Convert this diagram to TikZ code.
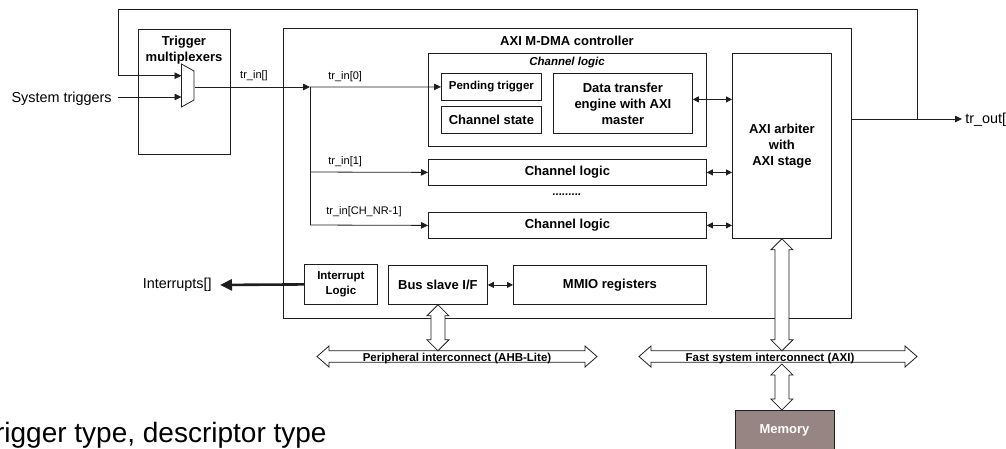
\documentclass[tikz,border=0pt]{standalone}
\usepackage{fontspec}
\setmainfont{Liberation Sans}
\usetikzlibrary{arrows.meta,calc}
\definecolor{memfill}{RGB}{150,133,131}
\definecolor{ln}{RGB}{30,30,30}
\newcommand\hollowV[2]{\draw[hollow] let \p1=(#1), \p2=(#2) in
  (\x1,\y1) -- (\x1+11pt,\y1-11pt) -- (\x1+7pt,\y1-11pt) -- (\x1+7pt,\y2+11pt) -- (\x1+11pt,\y2+11pt)
  -- (\x1,\y2) -- (\x1-11pt,\y2+11pt) -- (\x1-7pt,\y2+11pt) -- (\x1-7pt,\y1-11pt) -- (\x1-11pt,\y1-11pt) -- cycle;}
\newcommand\hollowH[2]{\draw[hollow] let \p1=(#1), \p2=(#2) in
  (\x1,\y1) -- (\x1+12pt,\y1+10.5pt) -- (\x1+12pt,\y1+5.7pt) -- (\x2-12pt,\y1+5.7pt) -- (\x2-12pt,\y1+10.5pt)
  -- (\x2,\y1) -- (\x2-12pt,\y1-10.5pt) -- (\x2-12pt,\y1-5.7pt) -- (\x1+12pt,\y1-5.7pt) -- (\x1+12pt,\y1-10.5pt) -- cycle;}
\begin{document}
\begin{tikzpicture}[x=1pt,y=-1pt,line width=0.8pt,draw=ln,
  box/.style={draw, inner sep=0pt, anchor=north west},
  bt/.style={font=\bfseries\fontsize{13}{16}\selectfont, align=center, inner sep=0pt},
  bts/.style={font=\bfseries\fontsize{11.5}{15}\selectfont, align=center, inner sep=0pt},
  lbl/.style={font=\fontsize{11}{13}\selectfont, inner sep=0pt},
  big/.style={font=\fontsize{14.4}{17}\selectfont, inner sep=0pt},
  buslbl/.style={font=\bfseries\fontsize{11.5}{14}\selectfont, inner sep=0pt, anchor=base},
  arr/.style={-{Triangle[length=7pt,width=6.5pt]}},
  darr/.style={{Triangle[length=6pt,width=6pt]}-{Triangle[length=6pt,width=6pt]}},
  hollow/.style={draw=ln, fill=white, line width=0.8pt, line join=miter}]
\useasboundingbox (0,0) rectangle (1006,448);
\begin{scope}
\clip (0,0) rectangle (1006,448);
% boxes
\node[box, minimum width=92, minimum height=125] (trigmux) at (138,29) {};
\node[bt] (trigtxt) at (184,50) {Trigger\\multiplexers};
\node[box, minimum width=568, minimum height=290] (dma) at (283,28) {};
\node[bt] (dmatxt) at (567,41) {AXI M-DMA controller};
\node[box, minimum width=278, minimum height=93] (ch0) at (428,53) {};
\node[bts] (ch0txt) at (567,63) {\itshape Channel logic};
\node[box, minimum width=100, minimum height=27, bts] (pend) at (441,73) {Pending trigger};
\node[box, minimum width=100, minimum height=27, bt] (cstate) at (441,106) {Channel state};
\node[box, minimum width=139, minimum height=60, bt] (dte) at (553,73) {Data transfer\\engine with AXI\\master};
\node[box, minimum width=99, minimum height=185, bt] (arb) at (732,53) {AXI arbiter\\with\\AXI stage};
\node[box, minimum width=278, minimum height=26, bt] (ch1) at (428,159) {Channel logic};
\node[bts] (dots) at (567,195) {\itshape .........};
\node[box, minimum width=278, minimum height=26, bt] (chN) at (428,212) {Channel logic};
\node[box, minimum width=73, minimum height=40, bts] (intr) at (304,264) {Interrupt\\Logic};
\node[box, minimum width=99, minimum height=39, bt] (bus) at (388,265) {Bus slave I/F};
\node[box, minimum width=193, minimum height=39, bt] (mmio) at (513,265) {MMIO registers};
\node[box, minimum width=99, minimum height=50, fill=memfill] (mem) at (735,410) {};
\node[bt, text=white] (memtxt) at (784.5,430) {Memory};
% multiplexer
\draw (181.5,64) -- (194,71) -- (194,100) -- (181.5,107) -- cycle;
\coordinate (muxin1) at (181.5,75.7);
\coordinate (muxin2) at (181.5,97);
\coordinate (muxout) at (194.5,87);
% texts
\node[big, anchor=east] (systxt) at (112,99) {System triggers};
\node[big, anchor=east] (intrtxt) at (212,285) {Interrupts[]};
\node[big, anchor=west] (trout) at (965,119.5) {tr\_out[]};
\node[lbl] (trin) at (254,76) {tr\_in[]};
\node[lbl, anchor=west] (trin0) at (328,77) {tr\_in[0]};
\node[lbl, anchor=west] (trin1) at (328,162) {tr\_in[1]};
\node[lbl, anchor=west] (trinN) at (326,212) {tr\_in[CH\_NR-1]};
\node[font=\fontsize{28}{32}\selectfont, inner sep=0pt, anchor=base east] (note) at (327,442) {Trigger type, descriptor type};
% connectors
\coordinate (sysin) at (118,97);
\coordinate (j0) at (310,87);
\coordinate (j1) at (310,172);
\coordinate (jN) at (310,225);
\coordinate (outj) at (917,119);
\coordinate (loopc) at (118,9);
\draw[arr] (sysin) -- (muxin2);
\draw[arr] (outj) |- (loopc) |- (muxin1);
\draw[arr] (dma.east |- outj) -- ([xshift=-3pt]trout.west |- outj);
\draw[arr] (muxout) -- (j0);
\draw (j0) -- (jN);
\draw[arr] (j0) -- (pend.west);
\draw[arr] (j1) -- (ch1.west);
\draw[arr] (jN) -- (chN.west);
\draw[darr] ([yshift=4pt]dte.east) -- ([yshift=4pt]dte.east -| arb.west);
\draw[darr] (ch1.east) -- (ch1.east -| arb.west);
\draw[darr] (chN.east) -- (chN.east -| arb.west);
\draw[darr] (bus.east) -- (mmio.west);
\draw[line width=2.6pt, -{Triangle[length=12pt,width=11pt]}, shorten >=8pt] (intr.west) -- (intrtxt.east);
% buses
\coordinate (pbusL) at (317,356.5);
\coordinate (pbusR) at (597,356.5);
\coordinate (fbusL) at (639,356.5);
\coordinate (fbusR) at (917,356.5);
\coordinate (busTop) at (441,350.8);
\coordinate (busBot) at (441,364);
\hollowH{pbusL}{pbusR}
\hollowH{fbusL}{fbusR}
\hollowV{bus.south}{bus.south |- busTop}
\hollowV{arb.south}{arb.south |- busTop}
\hollowV{arb.south |- busBot}{mem.north}
\node[buslbl] (pbustxt) at (457,361.5) {Peripheral interconnect (AHB-Lite)};
\node[buslbl] (fbustxt) at (770,361.5) {Fast system interconnect (AXI)};
\end{scope}
\end{tikzpicture}
\end{document}
